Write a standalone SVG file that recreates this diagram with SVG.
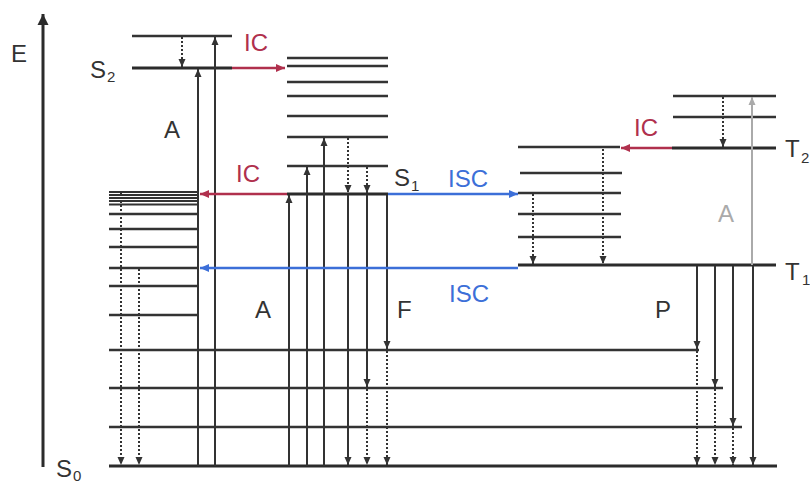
<svg xmlns="http://www.w3.org/2000/svg" width="810" height="485" viewBox="0 0 810 485">
<style>
.lv{stroke:#333;stroke-width:2.5;fill:none}
.lvt{stroke:#333;stroke-width:1.8;fill:none}
.main{stroke:#2b2b2b;stroke-width:3;fill:none}
.up{stroke:#333;stroke-width:2;fill:none;marker-end:url(#ah)}
.dn{stroke:#333;stroke-width:2;fill:none;marker-end:url(#ah)}
.dot{stroke:#333;stroke-width:2;fill:none;stroke-dasharray:2 2;marker-end:url(#ah)}
.red{stroke:#b0304d;stroke-width:2.5;fill:none;marker-end:url(#ahr)}
.blue{stroke:#3c6fd8;stroke-width:2.5;fill:none;marker-end:url(#ahb)}
.gray{stroke:#aaa;stroke-width:2;fill:none;marker-end:url(#ahg)}
text{font-family:"Liberation Sans",Arial,sans-serif;font-size:24px;fill:#333}
.sub{font-size:15px}
.tr{fill:#b0304d}
.tb{fill:#3c6fd8}
.tg{fill:#aaa}
</style>
<defs>
<marker id="ah" markerUnits="userSpaceOnUse" markerWidth="8" markerHeight="8" refX="8" refY="4" orient="auto"><path d="M0,0.5 L8,4 L0,7.5 z" fill="#333"/></marker>
<marker id="ahr" markerUnits="userSpaceOnUse" markerWidth="9" markerHeight="9" refX="9" refY="4.5" orient="auto"><path d="M0,0.5 L9,4.5 L0,8.5 z" fill="#b0304d"/></marker>
<marker id="ahb" markerUnits="userSpaceOnUse" markerWidth="9" markerHeight="9" refX="9" refY="4.5" orient="auto"><path d="M0,0.5 L9,4.5 L0,8.5 z" fill="#3c6fd8"/></marker>
<marker id="ahg" markerUnits="userSpaceOnUse" markerWidth="8" markerHeight="8" refX="8" refY="4" orient="auto"><path d="M0,0.5 L8,4 L0,7.5 z" fill="#aaa"/></marker>
<marker id="ahe" markerUnits="userSpaceOnUse" markerWidth="12" markerHeight="12" refX="11" refY="6" orient="auto"><path d="M0,0.5 L11,6 L0,11.5 z" fill="#2b2b2b"/></marker>
</defs>

<g id="axis">
<line x1="43" y1="467" x2="43" y2="14" style="stroke:#2b2b2b;stroke-width:3;marker-end:url(#ahe)"/>
<text x="11" y="62">E</text>
</g>

<g id="S0">
<line class="lvt" x1="109" y1="192" x2="197" y2="192"/>
<line class="lvt" x1="109" y1="195" x2="197" y2="195"/>
<line class="lvt" x1="109" y1="198" x2="197" y2="198"/>
<line class="lvt" x1="109" y1="201" x2="197" y2="201"/>
<line class="lvt" x1="109" y1="204.5" x2="197" y2="204.5"/>
<line class="lv" x1="109" y1="214" x2="197" y2="214"/>
<line class="lv" x1="109" y1="229" x2="197" y2="229"/>
<line class="lv" x1="109" y1="247" x2="197" y2="247"/>
<line class="lv" x1="109" y1="268" x2="197" y2="268"/>
<line class="lv" x1="109" y1="286" x2="197" y2="286"/>
<line class="lv" x1="109" y1="315" x2="197" y2="315"/>
<line class="lv" x1="109" y1="350" x2="699" y2="350"/>
<line class="lv" x1="109" y1="388" x2="723" y2="388"/>
<line class="lv" x1="109" y1="427" x2="742" y2="427"/>
<line class="main" x1="109" y1="466" x2="777" y2="466"/>
<text x="56" y="477">S</text><text class="sub" x="73" y="481">0</text>
</g>

<g id="S2">
<line class="lv" x1="132" y1="36" x2="232" y2="36"/>
<line class="main" x1="132" y1="68" x2="232" y2="68"/>
<text x="90" y="78">S</text><text class="sub" x="107" y="82">2</text>
</g>

<g id="S1">
<line class="lv" x1="287" y1="58" x2="388" y2="58"/>
<line class="lv" x1="287" y1="66" x2="388" y2="66"/>
<line class="lv" x1="287" y1="82" x2="388" y2="82"/>
<line class="lv" x1="287" y1="96" x2="388" y2="96"/>
<line class="lv" x1="287" y1="116" x2="388" y2="116"/>
<line class="lv" x1="287" y1="137" x2="388" y2="137"/>
<line class="lv" x1="287" y1="166" x2="388" y2="166"/>
<line class="main" x1="287" y1="194" x2="388" y2="194"/>
<text x="394" y="186">S</text><text class="sub" x="411" y="191">1</text>
</g>

<g id="T1">
<line class="lv" x1="518" y1="147" x2="620" y2="147"/>
<line class="lv" x1="520" y1="173" x2="622" y2="173"/>
<line class="lv" x1="518" y1="193" x2="621" y2="193"/>
<line class="lv" x1="518" y1="214" x2="621" y2="214"/>
<line class="lv" x1="518" y1="237" x2="621" y2="237"/>
<line class="main" x1="518" y1="265" x2="776" y2="265"/>
<text x="785" y="280">T</text><text class="sub" x="802" y="285">1</text>
</g>

<g id="T2">
<line class="lv" x1="673" y1="96" x2="776" y2="96"/>
<line class="lv" x1="673" y1="117" x2="776" y2="117"/>
<line class="main" x1="672" y1="148" x2="776" y2="148"/>
<text x="785" y="157">T</text><text class="sub" x="801" y="163">2</text>
</g>

<g id="connectors">
<line class="up" x1="198" y1="466" x2="198" y2="69"/>
<line class="up" x1="215" y1="466" x2="215" y2="37"/>
<line class="up" x1="289" y1="466" x2="289" y2="195"/>
<line class="up" x1="307" y1="466" x2="307" y2="167"/>
<line class="up" x1="324" y1="466" x2="324" y2="138"/>
<line class="dot" x1="182" y1="37" x2="182" y2="67"/>
<line class="dot" x1="348" y1="138" x2="348" y2="193"/>
<line class="dot" x1="367" y1="167" x2="367" y2="193"/>
<line class="dn" x1="348" y1="195" x2="348" y2="465"/>
<line class="dn" x1="367" y1="195" x2="367" y2="387"/>
<line class="dn" x1="387" y1="195" x2="387" y2="349"/>
<line class="dot" x1="367" y1="389" x2="367" y2="465"/>
<line class="dot" x1="387" y1="351" x2="387" y2="465"/>
<line class="dot" x1="121" y1="193" x2="121" y2="465"/>
<line class="dot" x1="139" y1="269" x2="139" y2="465"/>
<line class="dot" x1="723" y1="97" x2="723" y2="147"/>
<line class="dot" x1="533" y1="194" x2="533" y2="264"/>
<line class="dot" x1="603" y1="149" x2="603" y2="264"/>
<line class="dn" x1="697" y1="266" x2="697" y2="349"/>
<line class="dn" x1="715" y1="266" x2="715" y2="387"/>
<line class="dn" x1="733" y1="266" x2="733" y2="426"/>
<line class="dn" x1="753" y1="266" x2="753" y2="465"/>
<line class="dot" x1="697" y1="351" x2="697" y2="465"/>
<line class="dot" x1="715" y1="389" x2="715" y2="465"/>
<line class="dot" x1="733" y1="428" x2="733" y2="465"/>
<line class="gray" x1="752" y1="265" x2="752" y2="97"/>
<line class="red" x1="232" y1="68" x2="285" y2="68"/>
<line class="red" x1="287" y1="194" x2="200" y2="194"/>
<line class="red" x1="672" y1="148" x2="621" y2="148"/>
<line class="blue" x1="388" y1="194" x2="518" y2="194"/>
<line class="blue" x1="518" y1="268" x2="200" y2="268"/>
</g>

<g id="labels">
<text class="tr" x="244" y="51">IC</text>
<text x="164" y="138">A</text>
<text class="tr" x="236" y="182">IC</text>
<text class="tb" x="448" y="187">ISC</text>
<text class="tr" x="634" y="136">IC</text>
<text class="tg" x="718" y="222">A</text>
<text x="255" y="318">A</text>
<text x="397" y="318">F</text>
<text class="tb" x="449" y="302">ISC</text>
<text x="655" y="318">P</text>
</g>
</svg>
